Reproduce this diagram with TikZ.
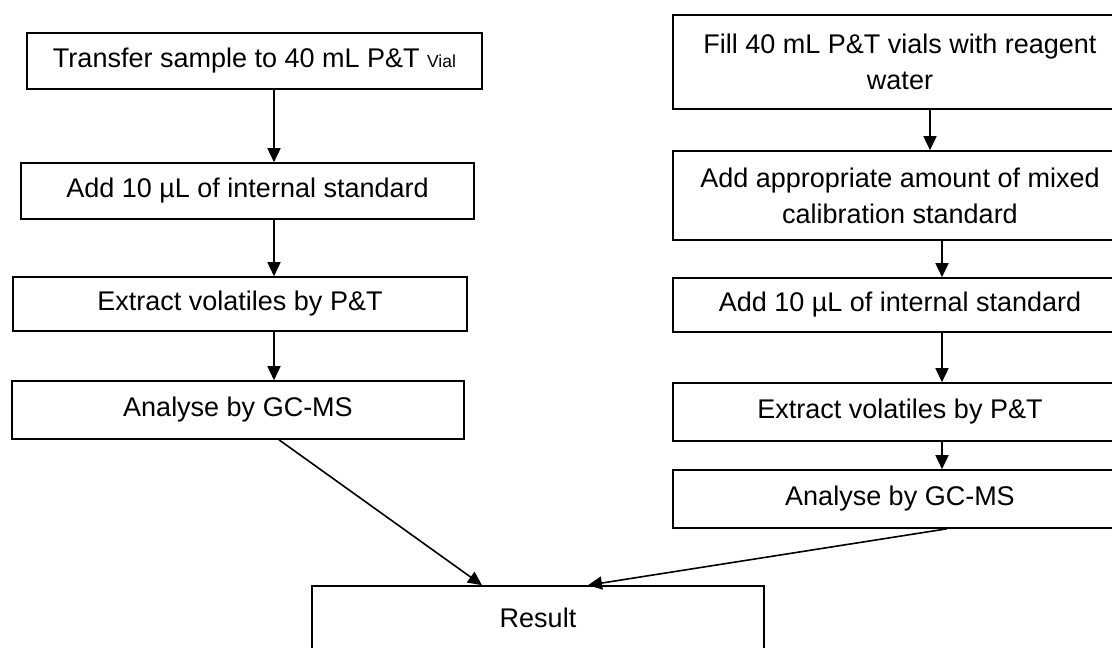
\documentclass[tikz,border=0pt]{standalone}
\usepackage{fontspec}
\setmainfont{Liberation Sans}
\usetikzlibrary{arrows.meta,calc}

\begin{document}
\begin{tikzpicture}
[x=1pt,y=-1pt,line width=1.6pt,
 every node/.style={draw,rectangle,inner sep=0pt,align=center,font=\fontsize{27}{36}\selectfont},
 arr/.style={-{Triangle[length=14pt,width=13pt]}}]
\useasboundingbox (0,0) rectangle (1112,648);
% sample
\node[minimum width=455pt,minimum height=56pt] (s1) at (254.5,61) {Transfer sample to 40 mL P\&T {\fontsize{17.5}{21}\selectfont Vial}};
\node[minimum width=453pt,minimum height=56pt] (s2) at (247.5,191) {Add 10 µL of internal standard};
\node[minimum width=454pt,minimum height=54pt] (s3) at (240,304) {Extract volatiles by P\&T};
\node[minimum width=452pt,minimum height=58pt] (s4) at (238,410) {Analyse by GC-MS};
% calibration
\node[minimum width=454pt,minimum height=94pt] (c1) at (900,62) {Fill 40 mL P\&T vials with reagent\\water};
\node[minimum width=454pt,minimum height=89pt] (c2) at (900,195.5) {Add appropriate amount of mixed\\calibration standard};
\node[minimum width=454pt,minimum height=54pt] (c3) at (900,305) {Add 10 µL of internal standard};
\node[minimum width=454pt,minimum height=58pt] (c4) at (900,412) {Extract volatiles by P\&T};
\node[minimum width=454pt,minimum height=58pt] (c5) at (900,499) {Analyse by GC-MS};
\node[minimum width=452pt,minimum height=63pt] (res) at (538,617.5) {Result};
\coordinate (lx) at (274,0);
\coordinate (rx) at (942,0);
\coordinate (tx) at (930,0);
\foreach \from/\to in {s1/s2,s2/s3,s3/s4}
\draw[arr] (\from.south -| lx) -- (\to.north -| lx);
\foreach \from/\to in {c2/c3,c3/c4,c4/c5}
\draw[arr] (\from.south -| rx) -- (\to.north -| rx);
\draw[arr] (c1.south -| tx) -- (c2.north -| tx);
\draw[arr] ($(s4.south)+(41,0)$) -- ($(res.north)+(-56,0)$);
\draw[arr] ($(c5.south)+(47,0)$) -- ($(res.north)+(50,0)$);
\end{tikzpicture}
\end{document}
